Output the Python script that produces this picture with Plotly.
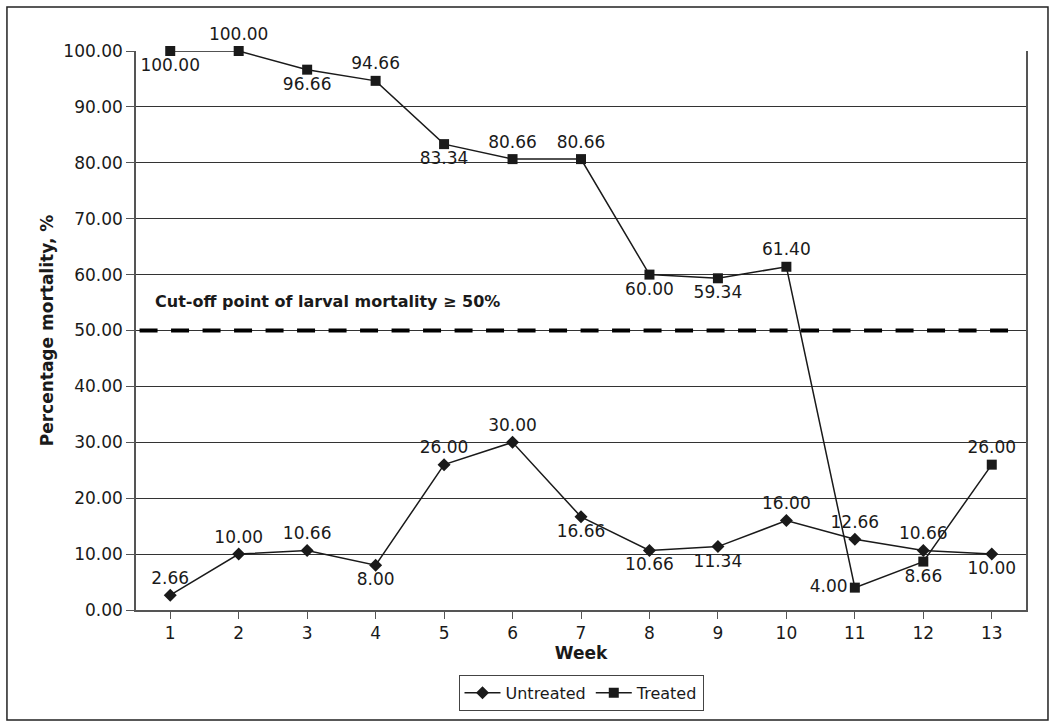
import plotly.graph_objects as go

weeks = list(range(1, 14))
untreated = [2.66, 10.00, 10.66, 8.00, 26.00, 30.00, 16.66, 10.66, 11.34, 16.00, 12.66, 10.66, 10.00]
treated = [100.00, 100.00, 96.66, 94.66, 83.34, 80.66, 80.66, 60.00, 59.34, 61.40, 4.00, 8.66, 26.00]
untreated_pos = ["top center", "top center", "top center", "bottom center", "top center", "top center",
                 "bottom center", "bottom center", "bottom center", "top center", "top center",
                 "top center", "bottom center"]
treated_pos = ["bottom center", "top center", "bottom center", "top center", "bottom center", "top center",
               "top center", "bottom center", "bottom center", "top center", "middle left",
               "bottom center", "top center"]
cutoff = 50
y_ticks = [i * 10 for i in range(11)]

FONT = "DejaVu Sans, Verdana, sans-serif"
INK = "#1a1a1a"
SIZE = 17

fig = go.Figure()
fig.add_trace(go.Scatter(
    x=weeks, y=untreated, name="Untreated", mode="lines+markers+text",
    line=dict(color=INK, width=1.5),
    marker=dict(symbol="diamond", size=10, color=INK),
    text=[f"{v:.2f}" for v in untreated], textposition=untreated_pos,
    textfont=dict(family=FONT, size=SIZE, color=INK), cliponaxis=False,
))
fig.add_trace(go.Scatter(
    x=weeks, y=treated, name="Treated", mode="lines+markers+text",
    line=dict(color=INK, width=1.5),
    marker=dict(symbol="square", size=10, color=INK),
    text=[f"{v:.2f}" for v in treated], textposition=treated_pos,
    textfont=dict(family=FONT, size=SIZE, color=INK), cliponaxis=False,
))

# dashed cut-off line
fig.add_shape(type="line", xref="paper", x0=0.004, x1=0.99, yref="y", y0=cutoff, y1=cutoff,
              line=dict(color="black", width=4, dash="18px,13.5px"))
fig.add_annotation(x=0.019, xref="paper", y=55.1, yref="y", xanchor="left", yanchor="middle",
                   text="<b>Cut-off point of larval mortality ≥ 50%</b>", showarrow=False,
                   font=dict(family=FONT, size=16, color=INK))

# outer frame
fig.add_shape(type="rect", xref="paper", yref="paper", x0=-0.145, x1=1.0247, y0=-0.197, y1=1.0787,
              line=dict(color="#222", width=1.5), fillcolor="rgba(0,0,0,0)")

fig.update_layout(
    width=1055, height=728,
    margin=dict(l=136, r=29, t=51, b=118),
    paper_bgcolor="white", plot_bgcolor="white",
    font=dict(family=FONT, size=SIZE, color=INK),
    showlegend=True,
    legend=dict(orientation="h", x=0.5, xanchor="center", y=-0.116, yanchor="top",
                bordercolor="#444", borderwidth=1, font=dict(family=FONT, size=16),
                itemwidth=36, tracegroupgap=0),
    xaxis=dict(
        range=[0.5, 13.5], tickmode="array", tickvals=weeks, ticktext=[str(w) for w in weeks],
        showgrid=False, zeroline=False, showline=True, linecolor="#555", linewidth=1.5,
        ticks="outside", ticklen=7, tickcolor="#555", tickson="boundaries",
        title=dict(text="<b>Week</b>", font=dict(family=FONT, size=SIZE), standoff=5),
    ),
    yaxis=dict(
        range=[0, 100], tickmode="array", tickvals=y_ticks, ticktext=[f"{v:.2f}" for v in y_ticks],
        showgrid=True, gridcolor="#333", gridwidth=1, zeroline=False,
        showline=True, linecolor="#555", linewidth=1.5, mirror=True,
        ticks="outside", ticklen=8, tickcolor="#555",
        title=dict(text="<b>Percentage mortality, %</b>", font=dict(family=FONT, size=SIZE), standoff=5),
    ),
)

fig.write_html("out.html")
